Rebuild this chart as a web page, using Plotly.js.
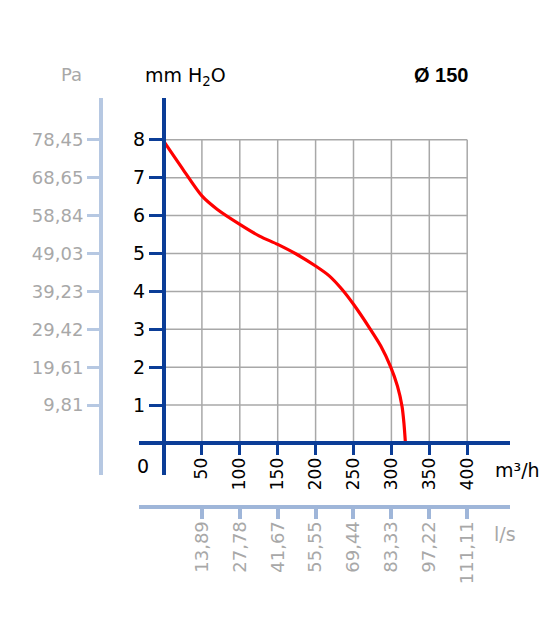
<!DOCTYPE html>
<html>
<head>
<meta charset="utf-8">
<script src="https://cdn.plot.ly/plotly-3.0.1.min.js"></script>
<style>
  html, body { margin: 0; padding: 0; background: #fff; }
  #chart { width: 559px; height: 627px; }
</style>
</head>
<body>
<div id="chart"></div>
<script>
// fan curve
var flowM3h = [0, 25, 50, 70, 100, 126, 150, 175, 200, 218, 235, 250, 271, 286, 299, 308, 314, 316.5, 318.5];
var pressureMm = [7.95, 7.22, 6.52, 6.17, 5.77, 5.46, 5.24, 4.98, 4.67, 4.41, 4.05, 3.66, 3.04, 2.56, 2.01, 1.5, 0.97, 0.53, 0];

var flowTicks = [50, 100, 150, 200, 250, 300, 350, 400];
var mmTicks = [1, 2, 3, 4, 5, 6, 7, 8];
var paTicks = [9.81, 19.61, 29.42, 39.23, 49.03, 58.84, 68.65, 78.45];
var lsTicks = [13.89, 27.78, 41.67, 55.55, 69.44, 83.33, 97.22, 111.11];

(function () {
  'use strict';

  var W = 559, H = 627;
  var navy = '#0b3d97';
  var paleBlue = '#b6c8e2';
  var paleBlue2 = '#9fb6d9';
  var grey = '#a8a8a8';
  var font = 'DejaVu Sans, sans-serif';

  // pixel frame of the drawing
  var plotL = 139, plotR = 510, plotT = 98, plotB = 475;
  var x0px = 164, y0px = 443, pxPer50 = 37.9, pxPerMm = 37.9;

  function px(x) { return x / W; }
  function py(y) { return 1 - y / H; }

  var xRange = [(plotL - x0px) / pxPer50 * 50, (plotR - x0px) / pxPer50 * 50];
  var yRange = [(y0px - plotB) / pxPerMm, (y0px - plotT) / pxPerMm];
  var xDom = [px(plotL), px(plotR)];
  var yDom = [py(plotB), py(plotT)];

  // grid only inside 0..400 x 0..8
  var shapes = [];
  flowTicks.forEach(function (t) {
    shapes.push({ type: 'line', xref: 'x', yref: 'y', x0: t, x1: t, y0: 0, y1: mmTicks[mmTicks.length - 1],
      line: { color: grey, width: 1.5 }, layer: 'below' });
  });
  mmTicks.forEach(function (t) {
    shapes.push({ type: 'line', xref: 'x', yref: 'y', x0: 0, x1: flowTicks[flowTicks.length - 1], y0: t, y1: t,
      line: { color: grey, width: 1.5 }, layer: 'below' });
  });

  function label(text, x, y, size, color, family) {
    return { text: text, xref: 'paper', yref: 'paper', x: px(x), y: py(y),
      xanchor: 'center', yanchor: 'middle', showarrow: false,
      font: { family: family || font, size: size, color: color } };
  }

  var traces = [
    {
      x: flowM3h, y: pressureMm, type: 'scatter', mode: 'lines',
      line: { color: '#ff0000', width: 3.2, shape: 'spline', smoothing: 0.8 },
      hoverinfo: 'skip', showlegend: false
    },
    {
      // same curve in l/s and Pa, keeps the secondary axes alive
      x: flowM3h.map(function (v) { return v / 3.6; }),
      y: pressureMm.map(function (v) { return v * 9.80665; }),
      xaxis: 'x2', yaxis: 'y2', type: 'scatter', mode: 'lines',
      line: { color: 'rgba(0,0,0,0)', width: 0 }, hoverinfo: 'skip', showlegend: false
    }
  ];

  var layout = {
    width: W, height: H,
    margin: { l: 0, r: 0, t: 0, b: 0 },
    paper_bgcolor: '#fff', plot_bgcolor: 'rgba(0,0,0,0)',
    separators: ', ',
    showlegend: false,
    font: { family: font, size: 18, color: '#000' },
    xaxis: {
      domain: xDom, range: xRange, anchor: 'free', position: py(y0px),
      showgrid: false, zeroline: false,
      showline: true, linecolor: navy, linewidth: 4,
      tickmode: 'array', tickvals: flowTicks, ticktext: flowTicks.map(String),
      ticks: 'outside', ticklen: 10, tickwidth: 3, tickcolor: navy,
      ticklabelstandoff: -4,
      tickangle: -90, tickfont: { family: font, size: 17, color: '#000' }
    },
    yaxis: {
      domain: yDom, range: yRange, anchor: 'free', position: px(x0px),
      showgrid: false, zeroline: false,
      showline: true, linecolor: navy, linewidth: 4,
      tickmode: 'array', tickvals: mmTicks, ticktext: mmTicks.map(String),
      ticks: 'outside', ticklen: 13, tickwidth: 3, tickcolor: navy,
      tickfont: { family: font, size: 19, color: '#000' }
    },
    xaxis2: {
      domain: xDom, range: xRange.map(function (v) { return v / 3.6; }),
      overlaying: 'x', anchor: 'free', position: py(507), side: 'bottom',
      showgrid: false, zeroline: false,
      showline: true, linecolor: paleBlue2, linewidth: 4,
      tickmode: 'array', tickvals: lsTicks, tickformat: '.2f',
      ticks: 'outside', ticklen: 10, tickwidth: 4, tickcolor: paleBlue2,
      ticklabelstandoff: -5,
      tickangle: -90, tickfont: { family: font, size: 18, color: grey }
    },
    yaxis2: {
      domain: yDom, range: yRange.map(function (v) { return v * 9.80665; }),
      overlaying: 'y', anchor: 'free', position: px(101), side: 'left',
      showgrid: false, zeroline: false,
      showline: true, linecolor: paleBlue, linewidth: 4,
      tickmode: 'array', tickvals: paTicks, tickformat: '.2f',
      ticks: 'outside', ticklen: 12, tickwidth: 3, tickcolor: paleBlue,
      tickfont: { family: font, size: 18, color: grey }
    },
    shapes: shapes,
    annotations: [
      label('Pa', 71, 75, 18, grey),
      label('mm H<sub>2</sub>O', 185, 77, 19, '#000'),
      label('<b>Ø 150</b>', 441, 75, 20, '#000', 'Liberation Sans, Arial, sans-serif'),
      label('0', 143, 466, 19, '#000'),
      label('m³/h', 517, 470, 19, '#000'),
      label('l/s', 505, 534, 19, grey)
    ]
  };

  Plotly.newPlot('chart', traces, layout, { displayModeBar: false, staticPlot: true });
})();
</script>
</body>
</html>
